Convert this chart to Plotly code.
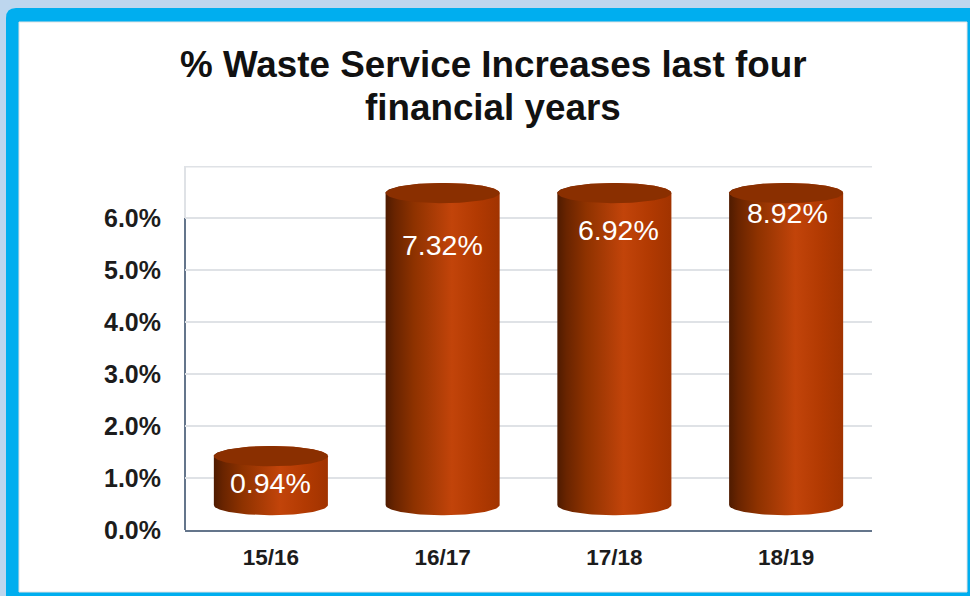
import numpy as np
import plotly.graph_objects as go

# Chart data
years = ["15/16", "16/17", "17/18", "18/19"]
increases = [0.94, 7.32, 6.92, 8.92]
y_ticks = [0, 1, 2, 3, 4, 5, 6]
y_tick_labels = ["0.0%", "1.0%", "2.0%", "3.0%", "4.0%", "5.0%", "6.0%"]
title_lines = ["% Waste Service Increases last four", "financial years"]

# Label placement, in axis units
label_y = [0.90, 5.48, 5.77, 6.10]
label_dx = [0.0, 0.0, 0.025, 0.01]

W, H = 970, 596
PLOT_L, PLOT_R, PLOT_T, PLOT_B = 185, 872, 166, 530
TITLE_CENTRES = [64.5, 108]

AXIS_CAP = 6.0        # columns stop at the top labelled tick
WALL_TOP = 7.0        # back wall extends one step above it
FLOOR = 0.48          # columns stand this far up the back wall
HALF_W = 0.332
CAP_RY = 0.195

BODY_SCALE = [
    [0.0, "#4f1b00"], [0.08, "#692400"], [0.25, "#8e3200"],
    [0.58, "#c2440a"], [0.80, "#b23a02"], [1.0, "#a13300"],
]
CAP_COLOR = "#8a2f00"
GRID = "#dfe2e6"
AXIS_LINE = "#64758b"
FRAME = "#00AEEF"
PAGE = "#BDD6EE"
TEXT = "#1c1c1c"


def ellipse_arc(cx, cy, start, stop, n=60):
    t = np.linspace(start, stop, n)
    return cx + HALF_W * np.cos(t), cy + CAP_RY * np.sin(t)


fig = go.Figure()

for i, value in enumerate(increases):
    top = FLOOR + min(value, AXIS_CAP)
    # Column side: lower half of the base ellipse closed over the top rim
    bx, by = ellipse_arc(i, FLOOR, np.pi, 2 * np.pi)
    tx, ty = ellipse_arc(i, top, 0, np.pi)
    fig.add_trace(go.Scatter(
        x=np.concatenate([bx, tx]), y=np.concatenate([by, ty]),
        mode="lines", line=dict(width=0), fill="toself",
        fillgradient=dict(type="horizontal", colorscale=BODY_SCALE),
        hoverinfo="skip", showlegend=False,
    ))
    # Column top
    cx, cy = ellipse_arc(i, top, 0, 2 * np.pi, 120)
    fig.add_trace(go.Scatter(
        x=cx, y=cy, mode="lines", line=dict(width=0), fill="toself",
        fillcolor=CAP_COLOR, hoverinfo="skip", showlegend=False,
    ))
    fig.add_annotation(
        x=i + label_dx[i], y=label_y[i], text=f"{value:.2f}%", showarrow=False,
        font=dict(family="Liberation Sans", size=28.5, color="#ffffff"),
        xanchor="center", yanchor="middle",
    )

for line, centre in zip(title_lines, TITLE_CENTRES):
    fig.add_annotation(
        xref="paper", yref="paper", x=493 / W, y=1 - centre / H, text=line,
        showarrow=False, xanchor="center", yanchor="middle",
        font=dict(family="Liberation Sans", size=36.8, color="#111111", weight="bold"),
    )

shapes = [
    # Page, frame and card
    dict(type="rect", xref="paper", yref="paper", x0=0, x1=1, y0=0, y1=1,
         fillcolor=PAGE, line_width=0, layer="below"),
    dict(type="path", xref="paper", yref="paper", layer="below",
         path=(f"M {6/W} 0 L {6/W} {1-18/H} Q {6/W} {1-8/H} {16/W} {1-8/H} "
               f"L 1 {1-8/H} L 1 0 Z"),
         fillcolor=FRAME, line_width=0),
    dict(type="rect", xref="paper", yref="paper", x0=19 / W, x1=967 / W,
         y0=1 - 592 / H, y1=1 - 22 / H, fillcolor="#ffffff",
         line=dict(color="#e2e2e2", width=1), layer="below"),
    # Back wall edges above the labelled range
    dict(type="line", xref="x domain", yref="y", x0=0, x1=1, y0=WALL_TOP, y1=WALL_TOP,
         line=dict(color=GRID, width=3), layer="below"),
    dict(type="line", xref="x domain", yref="y", x0=0, x1=0, y0=AXIS_CAP, y1=WALL_TOP,
         line=dict(color=GRID, width=2), layer="below"),
    # Value axis line
    dict(type="line", xref="x domain", yref="y", x0=0, x1=0, y0=0, y1=AXIS_CAP,
         line=dict(color=AXIS_LINE, width=2), layer="below"),
]

fig.update_layout(
    width=W, height=H, margin=dict(l=0, r=0, t=0, b=0, autoexpand=False),
    paper_bgcolor=PAGE, plot_bgcolor="#ffffff", showlegend=False,
    shapes=shapes,
    xaxis=dict(
        domain=[PLOT_L / W, PLOT_R / W], range=[-0.5, len(years) - 0.5],
        tickmode="array", tickvals=list(range(len(years))), ticktext=years,
        showgrid=False, zeroline=False, showline=True, automargin=False,
        linecolor=AXIS_LINE, linewidth=2, ticks="", ticklabelstandoff=6,
        tickfont=dict(family="Liberation Sans", size=22.5, color=TEXT, weight="bold"),
    ),
    yaxis=dict(
        domain=[1 - PLOT_B / H, 1 - PLOT_T / H], range=[0, WALL_TOP],
        tickmode="array", tickvals=y_ticks, ticktext=y_tick_labels,
        showgrid=True, gridcolor=GRID, gridwidth=2, zeroline=False,
        showline=False, ticks="", ticklabelstandoff=23, automargin=False,
        tickfont=dict(family="Liberation Sans", size=25, color=TEXT, weight="bold"),
    ),
)

fig.write_html("out.html")
